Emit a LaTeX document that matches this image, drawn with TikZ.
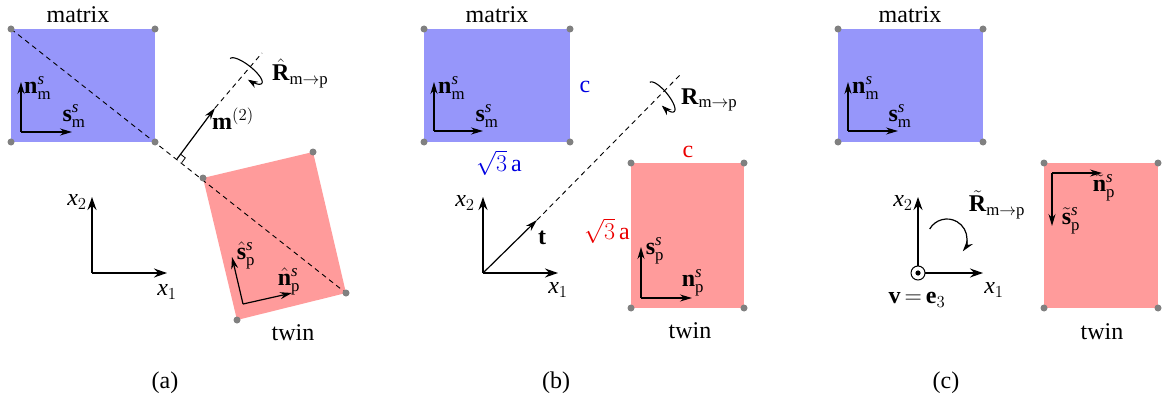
\RequirePackage{fix-cm}
\documentclass[tikz,border=0pt]{standalone}
\usepackage{fontspec}
\setmainfont{Liberation Serif}
\usetikzlibrary{arrows.meta,calc}
\definecolor{mblue}{RGB}{150,150,250}
\definecolor{tred}{RGB}{255,155,155}
\definecolor{dotgray}{RGB}{128,128,128}
\definecolor{lblue}{RGB}{0,0,225}
\definecolor{lred}{RGB}{235,0,0}
\begin{document}
\begin{tikzpicture}[x=1pt,y=-1pt,
  font=\fontsize{24}{28}\selectfont,
  vec/.style={-{Stealth[length=12pt,width=7pt]}, line width=1.2pt},
  axisarrow/.style={-{Stealth[length=13pt,width=9pt]}, line width=1.3pt},
  corner/.style={circle, fill=dotgray, inner sep=0pt, minimum size=7pt},
  dashline/.style={dash pattern=on 5pt off 4pt, line width=0.9pt},
  lbl/.style={inner sep=0pt},
  rotarc/.style={{Stealth[length=10pt,width=7pt]}-, line width=1.1pt}]
\useasboundingbox (0,0) rectangle (1164,401);

% ================= panel (a) =================
\coordinate (am1) at (11,29);  \coordinate (am2) at (155,29);
\coordinate (am3) at (155,142); \coordinate (am4) at (11,142);
\coordinate (at1) at (203,178); \coordinate (at2) at (313,152);
\coordinate (at3) at (346,293); \coordinate (at4) at (237,320);
\fill[mblue] (am1) -- (am2) -- (am3) -- (am4) -- cycle;
\fill[tred] (at1) -- (at2) -- (at3) -- (at4) -- cycle;
\draw[dashline] (am1) -- (at3);
\foreach \c in {am1,am2,am3,am4,at1,at2,at3,at4} \node[corner] at (\c) {};
\node[lbl] (amatrix) at (78,15) {matrix};
\node[lbl] (atwin) at (293,333) {twin};
% matrix vectors
\coordinate (ao) at (21,132); \coordinate (an) at (21,82); \coordinate (as) at (72,132);
\draw[vec] (ao) -- (an); \draw[vec] (ao) -- (as);
\node[lbl,anchor=west] (anl) at (24,88) {$\mathbf{n}^{\mathit{s}}_{\mathrm{m}}$};
\node[lbl] (asl) at (74,116) {$\mathbf{s}^{\mathit{s}}_{\mathrm{m}}$};
% twin vectors
\coordinate (apo) at (243,304); \coordinate (aps) at (232,257); \coordinate (apn) at (292,293);
\draw[vec] (apo) -- (aps); \draw[vec] (apo) -- (apn);
\node[lbl] (apsl) at (246,255) {$\hat{\mathbf{s}}^{\mathit{s}}_{\mathrm{p}}$};
\node[lbl] (apnl) at (289,281) {$\hat{\mathbf{n}}^{\mathit{s}}_{\mathrm{p}}$};
% m^(2)
\coordinate (afoot) at (177,159); \coordinate (amtip) at (215,108); \coordinate (aend) at (262,53);
\draw[vec] (afoot) -- (amtip);
\draw[dashline] (amtip) -- (aend);
\draw[line width=0.8pt] ($(afoot)+(4.7,3.7)$) -- ($(afoot)+(8.3,-1.1)$) -- ($(afoot)+(3.6,-4.8)$);
\node[lbl,anchor=west] (aml) at (212,119) {$\mathbf{m}^{(2)}$};
\draw[rotarc] plot[domain=-70:180, samples=40, smooth] ({246+20*cos(\x)*0.79+6*sin(\x)*0.62},{71+20*cos(\x)*0.62-6*sin(\x)*0.79});
\node[lbl,anchor=west] (aRl) at (272,73) {$\hat{\mathbf{R}}_{\mathrm{m}\to\mathrm{p}}$};
% axes
\coordinate (axo) at (92,273); \coordinate (ax2) at (92,197); \coordinate (ax1) at (167,273);
\draw[axisarrow] (axo) -- (ax2); \draw[axisarrow] (axo) -- (ax1);
\node[lbl] (ax2l) at (77,202) {$\mathit{x}_{2}$};
\node[lbl] (ax1l) at (167,292) {$\mathit{x}_{1}$};
\node[lbl] (acap) at (165,383) {(a)};

% ================= panel (b) =================
\coordinate (bm1) at (424,29);  \coordinate (bm2) at (570,29);
\coordinate (bm3) at (570,142); \coordinate (bm4) at (424,142);
\coordinate (bt1) at (631,163); \coordinate (bt2) at (744,163);
\coordinate (bt3) at (744,308); \coordinate (bt4) at (631,308);
\fill[mblue] (bm1) -- (bm2) -- (bm3) -- (bm4) -- cycle;
\fill[tred] (bt1) -- (bt2) -- (bt3) -- (bt4) -- cycle;
\foreach \c in {bm1,bm2,bm3,bm4,bt1,bt2,bt3,bt4} \node[corner] at (\c) {};
\node[lbl] (bmatrix) at (497,15) {matrix};
\node[lbl] (btwin) at (690,331) {twin};
\coordinate (bo) at (434,131); \coordinate (bn) at (434,82); \coordinate (bs) at (483,131);
\draw[vec] (bo) -- (bn); \draw[vec] (bo) -- (bs);
\node[lbl,anchor=west] (bnl) at (438,88) {$\mathbf{n}^{\mathit{s}}_{\mathrm{m}}$};
\node[lbl] (bsl) at (487,116) {$\mathbf{s}^{\mathit{s}}_{\mathrm{m}}$};
\node[lbl,text=lblue] (bc) at (585,87) {c};
\node[lbl,text=lblue] (ba) at (499,163) {$\sqrt{3}$\,a};
\node[lbl,text=lred] (bc2) at (688,152) {c};
\node[lbl,text=lred] (ba2) at (607,231) {$\sqrt{3}$\,a};
\coordinate (bpo) at (641,298); \coordinate (bps) at (641,247); \coordinate (bpn) at (692,298);
\draw[vec] (bpo) -- (bps); \draw[vec] (bpo) -- (bpn);
\node[lbl] (bpsl) at (655,251) {$\mathbf{s}^{\mathit{s}}_{\mathrm{p}}$};
\node[lbl] (bpnl) at (693,283) {$\mathbf{n}^{\mathit{s}}_{\mathrm{p}}$};
\coordinate (bxo) at (483,273); \coordinate (bx2) at (483,197); \coordinate (bx1) at (558,273);
\draw[axisarrow] (bxo) -- (bx2); \draw[axisarrow] (bxo) -- (bx1);
\node[lbl] (bx2l) at (465,203) {$\mathit{x}_{2}$};
\node[lbl] (bx1l) at (558,290) {$\mathit{x}_{1}$};
\coordinate (btt) at (537,220); \coordinate (bend) at (680,75);
\draw[vec] (bxo) -- (btt);
\draw[dashline] (btt) -- (bend);
\node[lbl] (btl) at (542,238) {$\mathbf{t}$};
\draw[rotarc] plot[domain=-70:180, samples=40, smooth] ({662+19*cos(\x)*0.64+6*sin(\x)*0.77},{97+19*cos(\x)*0.77-6*sin(\x)*0.64});
\node[lbl,anchor=west] (bRl) at (681,100) {$\mathbf{R}_{\mathrm{m}\to\mathrm{p}}$};
\node[lbl] (bcap) at (556,383) {(b)};

% ================= panel (c) =================
\coordinate (cm1) at (838,29);  \coordinate (cm2) at (983,29);
\coordinate (cm3) at (983,142); \coordinate (cm4) at (838,142);
\coordinate (ct1) at (1044,163); \coordinate (ct2) at (1158,163);
\coordinate (ct3) at (1158,308); \coordinate (ct4) at (1044,308);
\fill[mblue] (cm1) -- (cm2) -- (cm3) -- (cm4) -- cycle;
\fill[tred] (ct1) -- (ct2) -- (ct3) -- (ct4) -- cycle;
\foreach \c in {cm1,cm2,cm3,cm4,ct1,ct2,ct3,ct4} \node[corner] at (\c) {};
\node[lbl] (cmatrix) at (910,15) {matrix};
\node[lbl] (ctwin) at (1102,332) {twin};
\coordinate (co) at (848,131); \coordinate (cn) at (848,82); \coordinate (cs) at (898,131);
\draw[vec] (co) -- (cn); \draw[vec] (co) -- (cs);
\node[lbl,anchor=west] (cnl) at (852,88) {$\mathbf{n}^{\mathit{s}}_{\mathrm{m}}$};
\node[lbl] (csl) at (900,116) {$\mathbf{s}^{\mathit{s}}_{\mathrm{m}}$};
\coordinate (cpo) at (1052,173); \coordinate (cpn) at (1102,173); \coordinate (cps) at (1052,226);
\draw[vec] (cpo) -- (cpn); \draw[vec] (cpo) -- (cps);
\node[lbl] (cpnl) at (1104,188) {$\tilde{\mathbf{n}}^{\mathit{s}}_{\mathrm{p}}$};
\node[lbl] (cpsl) at (1071,221) {$\tilde{\mathbf{s}}^{\mathit{s}}_{\mathrm{p}}$};
\coordinate (cxo) at (918,273); \coordinate (cx2) at (918,197); \coordinate (cx1) at (983,273);
\draw[axisarrow] (cxo) -- (cx2); \draw[axisarrow] (cxo) -- (cx1);
\node[circle, draw, line width=1pt, fill=white, minimum size=14pt, inner sep=0pt] (cv) at (cxo) {};
\fill (cxo) circle[radius=2.6];
\node[lbl] (cx2l) at (903,203) {$\mathit{x}_{2}$};
\node[lbl] (cx1l) at (994,290) {$\mathit{x}_{1}$};
\node[lbl] (cvl) at (917,300) {$\mathbf{v}\,{=}\,\mathbf{e}_{3}$};
\coordinate (carcc) at (947,239);
\draw[vec] ($(carcc)+(-150:20)$) arc[start angle=-150, end angle=38, radius=20];
\node[lbl] (cRl) at (997,205) {$\tilde{\mathbf{R}}_{\mathrm{m}\to\mathrm{p}}$};
\node[lbl] (ccap) at (946,383) {(c)};
\end{tikzpicture}
\end{document}
